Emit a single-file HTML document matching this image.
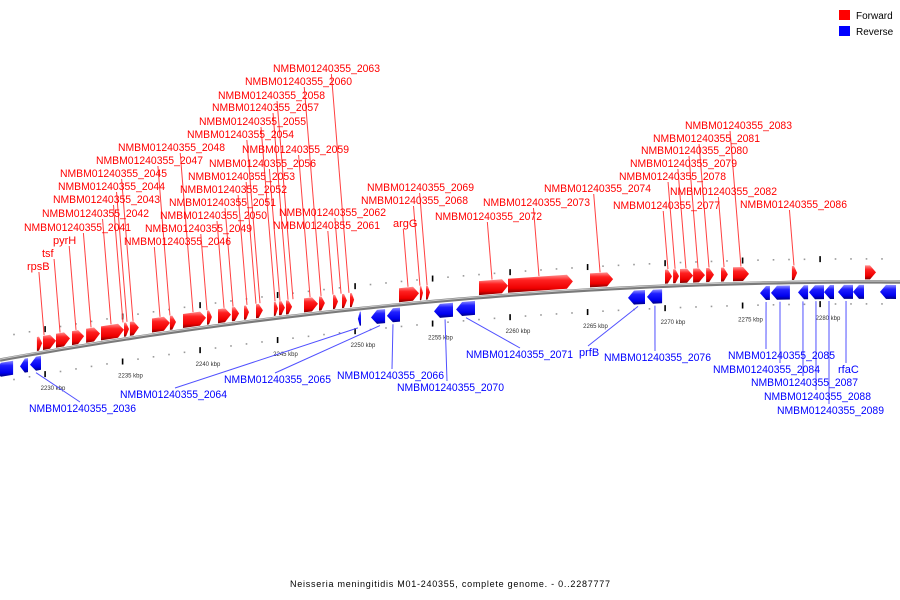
<!DOCTYPE html>
<html><head><meta charset="utf-8">
<style>
html,body{margin:0;padding:0;background:#fff;}
svg{display:block;font-family:"Liberation Sans",sans-serif;}
</style></head>
<body>
<svg id="chart" width="900" height="600" viewBox="0 0 900 600">
<defs>
<linearGradient id="gRed" x1="0" y1="0" x2="0" y2="1">
<stop offset="0" stop-color="#ff9090"/><stop offset="0.3" stop-color="#ff2020"/><stop offset="0.75" stop-color="#ee0000"/><stop offset="1" stop-color="#800000"/></linearGradient>
<linearGradient id="gBlue" x1="0" y1="0" x2="0" y2="1">
<stop offset="0" stop-color="#9090ff"/><stop offset="0.3" stop-color="#2020ff"/><stop offset="0.75" stop-color="#0000ee"/><stop offset="1" stop-color="#000080"/></linearGradient>
</defs>
<g id="ticks"></g>
<g id="leaders"></g>
<g id="backbone"></g>
<g id="genes"></g>
<g id="labels"></g>
<g>
<rect x="839" y="10" width="11" height="10" fill="#ff0000"/>
<text x="856" y="19" font-size="10" fill="#000">Forward</text>
<rect x="839" y="26" width="11" height="10" fill="#0000ff"/>
<text x="856" y="35" font-size="10" fill="#000">Reverse</text>
</g>
<text x="290" y="587" font-size="9" textLength="320" lengthAdjust="spacing" fill="#000">Neisseria meningitidis M01-240355, complete genome. - 0..2287777</text>
</svg>
<script>
// ---- data (kbp) ----
const fwdStart=[2229.48,2229.87,2230.71,2231.74,2232.65,2233.61,2235.10,2235.48,2236.90,2238.06,2238.90,2240.45,2241.16,2242.06,2242.84,2243.61,2244.77,2245.10,2245.55,2246.71,2247.68,2248.58,2249.16,2249.68,2252.84,2254.19,2254.58,2258.0,2259.87,2265.16,2270.0,2270.52,2270.97,2271.81,2272.65,2273.61,2274.39,2278.19,2282.90];
const fwdEnd=[2229.81,2230.71,2231.61,2232.52,2233.55,2235.10,2235.42,2236.06,2238.06,2238.45,2240.39,2240.77,2242.0,2242.52,2243.16,2244.06,2245.03,2245.48,2245.94,2247.61,2248.06,2248.90,2249.48,2249.94,2254.13,2254.39,2254.84,2259.87,2264.06,2266.65,2270.45,2270.90,2271.81,2272.58,2273.16,2274.06,2275.42,2278.52,2283.61];
const revStart=[2226.77,2228.39,2229.03,2250.19,2251.03,2252.06,2255.10,2256.52,2267.61,2268.84,2276.13,2276.84,2278.58,2279.29,2280.26,2281.16,2282.13,2283.87];
const revEnd=[2227.94,2228.90,2229.74,2250.39,2251.94,2252.90,2256.32,2257.74,2268.71,2269.81,2276.77,2278.06,2279.23,2280.26,2280.90,2282.13,2282.84,2284.90];
const fwdLabels=["rpsB","tsf","pyrH","NMBM01240355_2041","NMBM01240355_2042","NMBM01240355_2043","NMBM01240355_2044","NMBM01240355_2045","NMBM01240355_2046","NMBM01240355_2047","NMBM01240355_2048","NMBM01240355_2049","NMBM01240355_2050","NMBM01240355_2051","NMBM01240355_2052","NMBM01240355_2053","NMBM01240355_2054","NMBM01240355_2055","NMBM01240355_2056","NMBM01240355_2057","NMBM01240355_2058","NMBM01240355_2059","NMBM01240355_2060","NMBM01240355_2061","NMBM01240355_2062","NMBM01240355_2063","argG","NMBM01240355_2068","NMBM01240355_2069","NMBM01240355_2072","NMBM01240355_2073","NMBM01240355_2074","NMBM01240355_2077","NMBM01240355_2078","NMBM01240355_2079","NMBM01240355_2080","NMBM01240355_2081","NMBM01240355_2082","NMBM01240355_2083","NMBM01240355_2086"];
const fwdLabelPos=[2229.94,2230.97,2232.0,2232.97,2234.26,2235.03,2235.29,2235.68,2237.42,2238.06,2239.55,2240.45,2241.55,2242.13,2243.03,2243.61,2243.87,2244.84,2245.16,2245.68,2246.0,2247.10,2247.81,2248.58,2249.10,2249.61,2253.42,2254.19,2254.65,2258.84,2261.87,2265.81,2270.19,2270.65,2271.35,2272.13,2272.84,2273.81,2274.90,2278.32];
const revLabels=["NMBM01240355_2036","NMBM01240355_2064","NMBM01240355_2065","NMBM01240355_2066","NMBM01240355_2070","NMBM01240355_2071","prfB","NMBM01240355_2076","NMBM01240355_2085","NMBM01240355_2084","NMBM01240355_2087","NMBM01240355_2088","NMBM01240355_2089","rfaC"];
const revLabelPos=[2229.42,2250.19,2251.61,2252.45,2255.81,2257.16,2268.26,2269.35,2276.52,2277.42,2278.90,2279.74,2280.58,2281.68];
const tickKbp=[2230,2235,2240,2245,2250,2255,2260,2265,2270,2275,2280];
// ---- layout (label text placement: left x, centre y) ----
const fwdTextXY=[[27,266],[42,253],[53,240],[24,227],[42,213],[53,199],[58,186],[60,173],[124,241],[96,160],[118,147],[145,228],[160,215],[169,202],[180,189],[188,176],[187,134],[199,121],[209,163],[212,107],[218,95],[242,149],[245,81],[273,225],[279,212],[273,68],[393,223],[361,200],[367,187],[435,216],[483,202],[544,188],[613,205],[619,176],[630,163],[641,150],[653,138],[670,191],[685,125],[740,204]];
const revTextXY=[[29,408],[120,394],[224,379],[337,375],[397,387],[466,354],[579,352],[604,357],[728,355],[713,369],[751,382],[764,396],[777,410],[838,369]];
const revAnchorX=[80,175,275,392,447,520,588,655,766,780,803,816,829,846];

const NS="http://www.w3.org/2000/svg";
function X(k){return 45+(k-2230)*15.5;}
function B(x){return 360-0.18*x+1.037e-4*x*x;}
function mk(tag,attrs,parent){const e=document.createElementNS(NS,tag);for(const a in attrs)e.setAttribute(a,attrs[a]);parent.appendChild(e);return e;}
const gT=document.getElementById('ticks'),gL=document.getElementById('leaders'),gB=document.getElementById('backbone'),gG=document.getElementById('genes'),gX=document.getElementById('labels');

// backbone
let pts=[];for(let x=0;x<=900;x+=10)pts.push(x+','+B(x).toFixed(2));
let bb=mk('polyline',{points:pts.join(' '),fill:'none',stroke:'#7a7a7a','stroke-width':3.5},gB);


let bb2=mk('polyline',{points:pts.map(p=>{const[a,b]=p.split(',');return a+','+(+b-0.8)}).join(' '),fill:'none',stroke:'#c8c8c8','stroke-width':1},gB);



// minor dots & major ticks
for(let k=2227;k<=2284;k++){
  const x=X(k);if(x<0||x>900)continue;const b=B(x);
  const major=(k%5===0);
  [b-23,b+22].forEach(y=>{
    let d;
    if(major){d=mk('rect',{x:x-0.7,y:y-3,width:1.6,height:6,fill:'#000'},gT);}
    else{d=mk('rect',{x:x-0.8,y:y-0.8,width:1.6,height:1.6,fill:'#999'},gT);}
    
    
  });
}
tickKbp.forEach(k=>{
  const x=X(k);
  const t=mk('text',{x:x+8,y:B(x)+38,'font-size':6,'text-anchor':'middle',fill:'#333'},gT);
  t.textContent=k+' kbp';
  
  
});

// genes
function gene(k1,k2,fwd,i){
  const x1=X(k1),x2=X(k2),w=x2-x1,hd=Math.min(6,w*0.6),h=14;
  let p;
  if(fwd){
    const o=2.5;const xb=x2-hd;
    p=[[x1,B(x1)-o-h],[xb,B(xb)-o-h],[x2,B(x2)-o-h/2],[xb,B(xb)-o],[x1,B(x1)-o]];
  }else{
    const o=3;const xb=x1+hd;
    p=[[x1,B(x1)+o+h/2],[xb,B(xb)+o],[x2,B(x2)+o],[x2,B(x2)+o+h],[xb,B(xb)+o+h]];
  }
  const e=mk('polygon',{points:p.map(q=>q[0].toFixed(1)+','+q[1].toFixed(1)).join(' '),fill:fwd?'url(#gRed)':'url(#gBlue)'},gG);
  
  
}
fwdStart.forEach((s,i)=>gene(s,fwdEnd[i],true,i));
revStart.forEach((s,i)=>gene(s,revEnd[i],false,i));

function addText(name,tx,ty,color){
  const attrs={x:tx,y:ty+4,'font-size':11,fill:color};
  if(name.length>10){attrs.textLength=107;attrs.lengthAdjust='spacingAndGlyphs';}
  const t=mk('text',attrs,gX);
  t.textContent=name;
  return t;
}
// forward labels
fwdLabels.forEach((name,i)=>{
  const [tx,ty]=fwdTextXY[i];
  const gx=X(fwdLabelPos[i]),gy=B(gx)-17;
  const ax=gx-0.08*(gy-(ty+5));
  const l=mk('line',{x1:ax,y1:ty+6,x2:gx,y2:gy,stroke:'#ff4040','stroke-width':1},gL);
  
  
  const t=addText(name,tx,ty,'#ff0000');
  
  
});
// reverse labels
revLabels.forEach((name,i)=>{
  const [tx,ty]=revTextXY[i];
  const gx=X(revLabelPos[i]),gy=B(gx)+19;
  const l=mk('line',{x1:gx,y1:gy,x2:revAnchorX[i],y2:ty-6,stroke:'#5050ff','stroke-width':1},gL);
  
  
  const t=addText(name,tx,ty,'#0000ff');
  
  
});
</script>
</body></html>
